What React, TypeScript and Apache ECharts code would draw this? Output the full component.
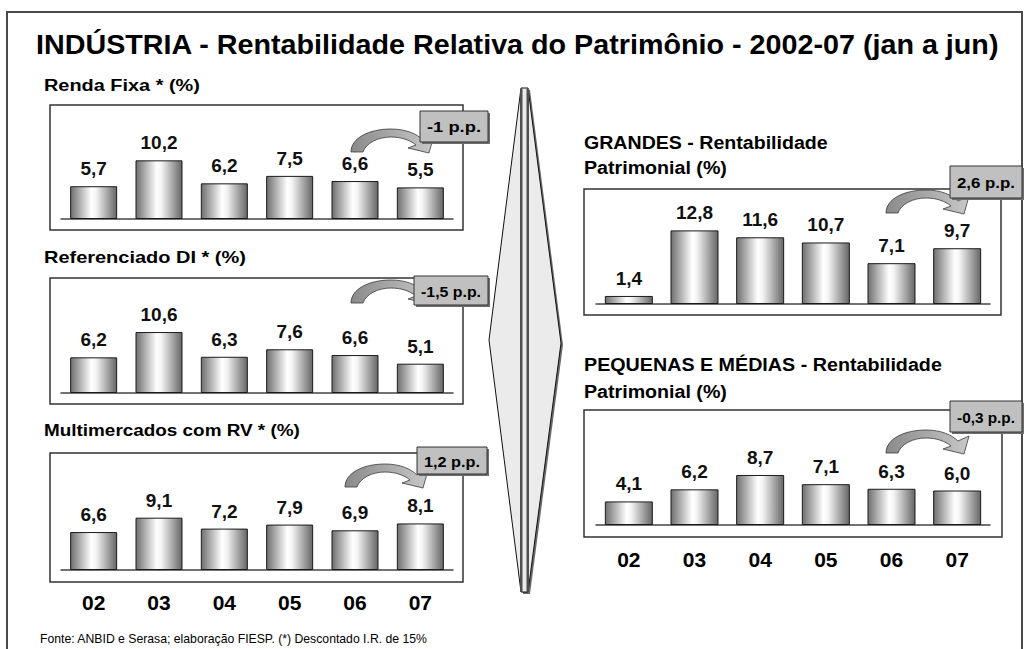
import React, { useEffect, useRef } from 'react';
import * as echarts from 'echarts';

// ---------- data ----------
const categories = ['02', '03', '04', '05', '06', '07'];
const rendaFixa = [5.7, 10.2, 6.2, 7.5, 6.6, 5.5];
const referenciadoDI = [6.2, 10.6, 6.3, 7.6, 6.6, 5.1];
const multimercados = [6.6, 9.1, 7.2, 7.9, 6.9, 8.1];
const grandes = [1.4, 12.8, 11.6, 10.7, 7.1, 9.7];
const pequenasMedias = [4.1, 6.2, 8.7, 7.1, 6.3, 6.0];
const variations = ['-1 p.p.', '-1,5 p.p.', '1,2 p.p.', '2,6 p.p.', '-0,3 p.p.'];
const mainTitle = 'INDÚSTRIA - Rentabilidade Relativa do Patrimônio - 2002-07 (jan a jun)';
const footnote = 'Fonte: ANBID e Serasa; elaboração FIESP. (*) Descontado I.R. de 15%';

const FONT = '"Liberation Sans", Arial, Helvetica, sans-serif';

// ---------- layout ----------
const panels = [
  { data: rendaFixa, box: [50, 105, 413, 125], axisY: 219, left: 61, width: 392, barW: 47, badge: [420, 111, 68, 31], arrow: [351, 129], showX: false, margin: 22 },
  { data: referenciadoDI, box: [50, 278, 413, 126], axisY: 393, left: 61, width: 392, barW: 47, badge: [414, 276, 74, 29], arrow: [351, 280], showX: false, margin: 22 },
  { data: multimercados, box: [50, 453, 413, 129], axisY: 570, left: 61, width: 392, barW: 47, badge: [417, 447, 70, 27], arrow: [345, 464], showX: true, margin: 22 },
  { data: grandes, box: [584, 189, 417, 126], axisY: 304, left: 596, width: 394, barW: 48, badge: [950, 166, 72, 32], arrow: [886, 190], showX: false, margin: 24 },
  { data: pequenasMedias, box: [584, 410, 418, 127], axisY: 525, left: 596, width: 394, barW: 48, badge: [950, 401, 72, 31], arrow: [886, 430], showX: true, margin: 24 },
];

const titles: { text: string; x: number; y: number; w: number; size: number; weight: string }[] = [
  { text: mainTitle, x: 36, y: 45, w: 964, size: 27, weight: 'bold' },
  { text: 'Renda Fixa * (%)', x: 44, y: 85, w: 156, size: 17, weight: 'bold' },
  { text: 'Referenciado DI * (%)', x: 44, y: 257, w: 202, size: 17, weight: 'bold' },
  { text: 'Multimercados com RV * (%)', x: 44, y: 430, w: 256, size: 17, weight: 'bold' },
  { text: 'GRANDES - Rentabilidade', x: 584, y: 143, w: 244, size: 18, weight: 'bold' },
  { text: 'Patrimonial (%)', x: 584, y: 168, w: 143, size: 18, weight: 'bold' },
  { text: 'PEQUENAS E MÉDIAS - Rentabilidade', x: 584, y: 365, w: 358, size: 18, weight: 'bold' },
  { text: 'Patrimonial (%)', x: 584, y: 392, w: 143, size: 18, weight: 'bold' },
  { text: footnote, x: 40, y: 639, w: 388, size: 13, weight: 'normal' },
];

const ARROW_D =
  'M0 23 C0 9 18 0 40 0 C55 0 66 5 72 11 L83 6 L78 24 L57 19 L65 16 C59 11 50 8 40 8 C27 8 15 14 12 23 Z';

let registered = false;
function registerShapes() {
  if (registered) return;
  echarts.graphic.registerShape('curvedArrow', echarts.graphic.extendPath(ARROW_D, {}) as any);
  registered = true;
}

function measure(text: string, size: number, weight: string) {
  const ctx = document.createElement('canvas').getContext('2d');
  if (!ctx) return text.length * size * 0.55;
  ctx.font = `${weight} ${size}px "Liberation Sans", Arial, sans-serif`;
  return ctx.measureText(text).width;
}

const fmt = (v: number) => v.toFixed(1).replace('.', ',');

export default function App() {
  const ref = useRef<HTMLDivElement>(null);

  useEffect(() => {
    document.body.style.margin = '0';
    document.body.style.overflow = 'hidden';
    if (!ref.current) return;
    registerShapes();
    const chart = echarts.init(ref.current, undefined, { renderer: 'svg' });

    const barGradient = {
      type: 'linear', x: 0, y: 0, x2: 1, y2: 0,
      colorStops: [
        { offset: 0, color: '#6f6f6f' },
        { offset: 0.45, color: '#ffffff' },
        { offset: 0.55, color: '#f4f4f4' },
        { offset: 1, color: '#666666' },
      ],
    };

    const grid: any[] = [];
    const xAxis: any[] = [];
    const yAxis: any[] = [];
    const series: any[] = [];
    const graphic: any[] = [];

    // outer frame
    graphic.push({ type: 'rect', shape: { x: 7, y: 12, width: 1015, height: 700 }, style: { fill: 'none', stroke: '#4a4a4a', lineWidth: 2 } });

    // separator (diamond with double line)
    graphic.push({
      type: 'polygon',
      shape: { points: [[523, 90], [491, 341], [523, 594], [530, 594], [563, 345], [530, 90]] },
      style: { fill: '#6a6a6a', stroke: 'none' },
    });
    graphic.push({
      type: 'polygon',
      shape: { points: [[521, 88], [489, 340], [521, 592], [528, 592], [561, 343], [528, 88]] },
      style: { fill: '#ebebeb', stroke: '#111', lineWidth: 1 },
    });
    graphic.push({ type: 'rect', shape: { x: 520, y: 89, width: 2.5, height: 503 }, style: { fill: '#4f4f4f' } });
    graphic.push({ type: 'rect', shape: { x: 526.5, y: 89, width: 2.5, height: 503 }, style: { fill: '#4f4f4f' } });

    panels.forEach((p, i) => {
      const top = p.axisY - 115;
      grid.push({ left: p.left, top, width: p.width, height: 115 });
      xAxis.push({
        type: 'category',
        gridIndex: i,
        data: categories,
        axisLine: { show: true, lineStyle: { color: '#444', width: 1.5 } },
        axisTick: { show: false },
        axisLabel: {
          show: p.showX,
          margin: p.margin,
          fontSize: 21,
          fontWeight: 'bold',
          color: '#000',
          fontFamily: FONT,
        },
      });
      yAxis.push({ type: 'value', gridIndex: i, min: 0, max: 20, show: false, splitLine: { show: false } });
      series.push({
        type: 'bar',
        xAxisIndex: i,
        yAxisIndex: i,
        data: p.data,
        barWidth: p.barW,
        itemStyle: { color: barGradient, borderColor: '#1a1a1a', borderWidth: 1 },
        label: {
          show: true,
          position: 'top',
          distance: 8,
          formatter: (d: any) => fmt(d.value),
          fontSize: 19,
          fontWeight: 'bold',
          color: '#111',
          fontFamily: FONT,
        },
      });

      const [bx, by, bw, bh] = p.box;
      graphic.push({ type: 'rect', shape: { x: bx, y: by, width: bw, height: bh }, style: { fill: 'none', stroke: '#333', lineWidth: 1.5 }, z: 1 });

      // curved arrow
      graphic.push({
        type: 'curvedArrow',
        x: p.arrow[0],
        y: p.arrow[1],
        style: {
          fill: { type: 'linear', x: 0, y: 0, x2: 1, y2: 0, colorStops: [{ offset: 0, color: '#8a8a8a' }, { offset: 1, color: '#c8c8c8' }] },
          stroke: '#3a3a3a',
          lineWidth: 0.8,
        },
        z: 10,
      });

      // badge
      const [gx, gy, gw, gh] = p.badge;
      graphic.push({ type: 'rect', shape: { x: gx + 2, y: gy + 2, width: gw, height: gh }, style: { fill: '#6e6e6e' }, z: 11 });
      graphic.push({ type: 'rect', shape: { x: gx, y: gy, width: gw, height: gh }, style: { fill: '#c0c0c0', stroke: '#333', lineWidth: 1 }, z: 12 });
      const bt = variations[i];
      const natural = measure(bt, 15, 'bold');
      const target = gw - 14;
      graphic.push({
        type: 'text',
        x: gx + gw / 2,
        y: gy + gh / 2 + 1,
        scaleX: Math.min(1.3, target / natural),
        style: { text: bt, fontSize: 15, fontWeight: 'bold', fontFamily: FONT, fill: '#000', align: 'center', verticalAlign: 'middle' },
        z: 13,
      });
    });

    titles.forEach((t) => {
      const nat = measure(t.text, t.size, t.weight);
      graphic.push({
        type: 'text',
        x: t.x,
        y: t.y,
        scaleX: t.w / nat,
        style: { text: t.text, fontSize: t.size, fontWeight: t.weight, fontFamily: FONT, fill: '#000', align: 'left', verticalAlign: 'middle' },
        z: 5,
      });
    });

    chart.setOption({
      animation: false,
      backgroundColor: '#ffffff',
      grid,
      xAxis,
      yAxis,
      series,
      graphic: { elements: graphic },
    });

    return () => {
      chart.dispose();
    };
  }, []);

  return <div ref={ref} style={{ width: 1029, height: 649 }} />;
}
